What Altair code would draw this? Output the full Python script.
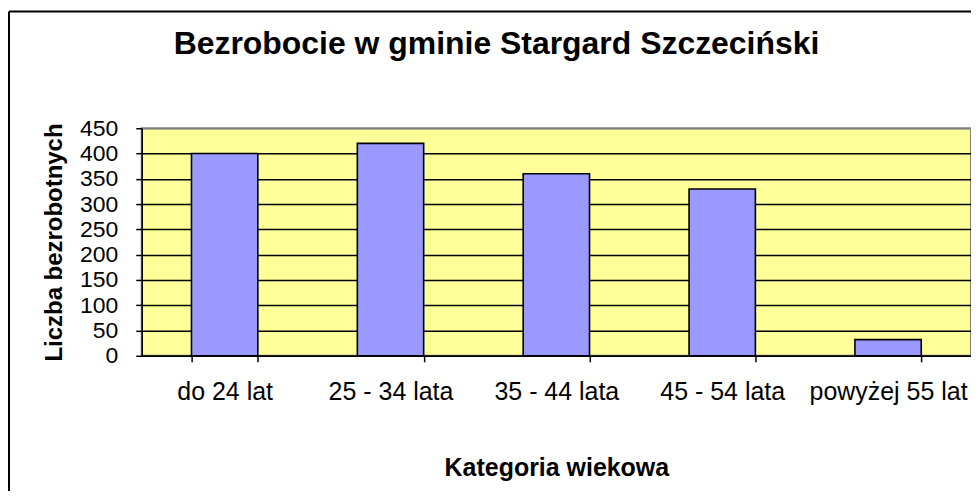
import altair as alt
import pandas as pd

categories = ["do 24 lat", "25 - 34 lata", "35 - 44 lata", "45 - 54 lata", "powyżej 55 lat"]
values = [400, 420, 360, 330, 32]
y_ticks = [0, 50, 100, 150, 200, 250, 300, 350, 400, 450]

title_text = "Bezrobocie w gminie Stargard Szczeciński"
x_title = "Kategoria wiekowa"
y_title = "Liczba bezrobotnych"

df = pd.DataFrame({"kat": categories, "liczba": values})
frame_df = pd.DataFrame({"k": [0]})

W, H = 831, 228
FONT = "Liberation Sans"

bars = alt.Chart(df).mark_bar(
    color="#9999FF", stroke="black", strokeWidth=1.6
).encode(
    x=alt.X(
        "kat:N",
        sort=categories,
        title=x_title,
        scale=alt.Scale(paddingInner=0.6, paddingOuter=0.3),
        axis=alt.Axis(
            labelAngle=0,
            tickBand="extent",
            labelFont=FONT,
            labelFontSize=25,
            labelColor="black",
            labelPadding=18,
            tickSize=6,
            tickColor="black",
            tickWidth=1.5,
            domainColor="black",
            domainWidth=1.5,
            titleFont=FONT,
            titleFontSize=25,
            titleFontWeight="bold",
            titleColor="black",
            titleBaseline="alphabetic",
            titleY=120,
        ),
    ),
    y=alt.Y(
        "liczba:Q",
        title=y_title,
        scale=alt.Scale(domain=[0, 450], nice=False),
        axis=alt.Axis(
            values=y_ticks,
            labelFont=FONT,
            labelFontSize=23,
            labelColor="black",
            labelPadding=18,
            tickSize=6,
            tickColor="black",
            tickWidth=1.5,
            domainColor="black",
            domainWidth=1.5,
            grid=True,
            gridColor=alt.expr("datum.value == 450 ? '#808080' : 'black'"),
            gridWidth=1.5,
            gridOpacity=1,
            titleFont=FONT,
            titleFontSize=24,
            titleFontWeight="bold",
            titleColor="black",
            titleAngle=270,
            titleAlign="center",
            titleBaseline="alphabetic",
            titleX=-80,
            titleY=H / 2,
        ),
    ),
)

top_border = alt.Chart(frame_df).mark_rule(color="black", strokeWidth=2).encode(
    x=alt.value(-133), x2=alt.value(W + 20), y=alt.value(-117)
)
left_border = alt.Chart(frame_df).mark_rule(color="black", strokeWidth=2).encode(
    x=alt.value(-133), y=alt.value(-117), y2=alt.value(H + 200)
)

chart = alt.layer(top_border, left_border, bars).properties(
    width=W,
    height=H,
    autosize=alt.AutoSizeParams(type="none"),
    padding={"left": 134, "top": 120, "right": 0, "bottom": 135},
    background="white",
    title=alt.TitleParams(
        title_text,
        font=FONT,
        fontSize=32,
        fontWeight="bold",
        color="black",
        anchor="middle",
        frame="group",
        baseline="alphabetic",
        offset=0,
        dx=-60,
        dy=76,
    ),
).configure_view(
    fill="#FFFF99", stroke="#808080", strokeWidth=2
)

chart.save("out.html", embed_options={"renderer": "svg", "actions": False})
